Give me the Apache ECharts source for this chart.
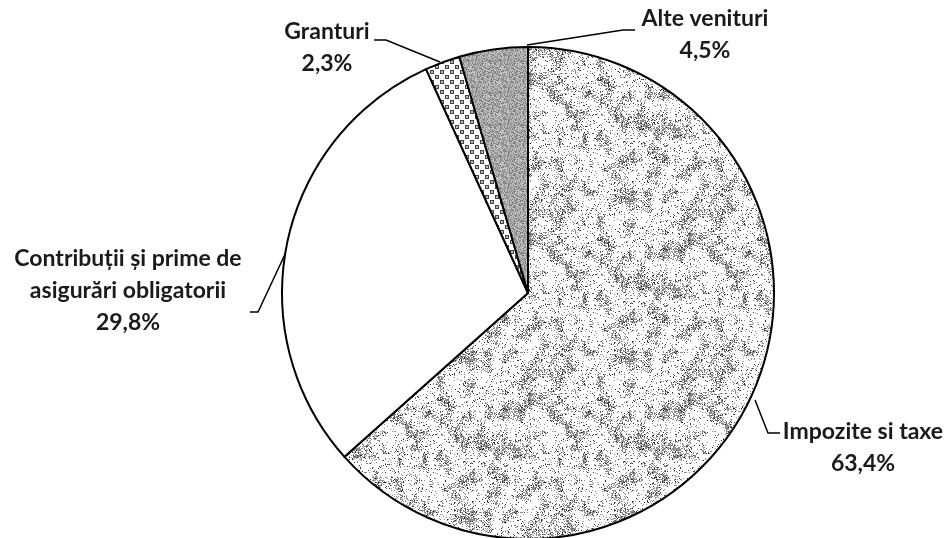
<!DOCTYPE html>
<html><head><meta charset="utf-8">
<script src="https://cdn.jsdelivr.net/npm/echarts@6/dist/echarts.min.js"></script>
<style>html,body{margin:0;padding:0;background:#fff}#c{width:950px;height:538px}</style>
</head><body><div id="c"></div>
<script>
const categories = ['Impozite si taxe', 'Contribuții și prime de\nasigurări obligatorii', 'Granturi', 'Alte venituri'];
const values = [63.4, 29.8, 2.3, 4.5];

// deterministic pseudo-random for textures only
let seed = 12345;
function rnd(){ seed = (seed * 1103515245 + 12345) & 0x7fffffff; return seed / 0x7fffffff; }

function speckle(){
  const N = 160, c = document.createElement('canvas'); c.width = c.height = N;
  const ctx = c.getContext('2d'); const img = ctx.createImageData(N, N);
  const G = 20, grid = [];
  for (let i = 0; i < G*G; i++) grid.push(rnd());
  function vn(x, y){
    const gx = x / N * G, gy = y / N * G;
    const x0 = Math.floor(gx), y0 = Math.floor(gy), fx = gx - x0, fy = gy - y0;
    const g = (a,b)=>grid[((b+G)%G)*G + ((a+G)%G)];
    const a = g(x0,y0)*(1-fx)+g(x0+1,y0)*fx, b = g(x0,y0+1)*(1-fx)+g(x0+1,y0+1)*fx;
    return a*(1-fy)+b*fy;
  }
  for (let y = 0; y < N; y++) for (let x = 0; x < N; x++){
    const n = vn(x, y), r = rnd(); let v = 255;
    const blob = Math.max(0, n - 0.45) * 1.8;
    if (r < 0.03 + blob*0.12) v = 50;
    else if (r < 0.10 + blob*0.75) v = 140;
    const k = (y*N + x)*4; img.data[k]=img.data[k+1]=img.data[k+2]=v; img.data[k+3]=255;
  }
  ctx.putImageData(img, 0, 0); return c;
}
function checker(){
  const c = document.createElement('canvas'); c.width = c.height = 10;
  const ctx = c.getContext('2d'); ctx.fillStyle = '#fff'; ctx.fillRect(0,0,10,10);
  ctx.fillStyle = '#444'; ctx.fillRect(0,0,4,4); ctx.fillStyle = '#bbb'; ctx.fillRect(1,1,2,2);
  ctx.fillStyle = '#444'; ctx.fillRect(5,5,4,4); ctx.fillStyle = '#bbb'; ctx.fillRect(6,6,2,2);
  return c;
}
function grayNoise(){
  const N = 32, c = document.createElement('canvas'); c.width = c.height = N;
  const ctx = c.getContext('2d'); const img = ctx.createImageData(N, N);
  for (let i = 0; i < N*N; i++){ const r = rnd(); const v = r < 0.3 ? 130 : (r < 0.6 ? 200 : 170);
    img.data[i*4]=img.data[i*4+1]=img.data[i*4+2]=v; img.data[i*4+3]=255; }
  ctx.putImageData(img, 0, 0); return c;
}
const fills = [
  {image: speckle(), repeat: 'repeat'},
  '#ffffff',
  {image: checker(), repeat: 'repeat'},
  {image: grayNoise(), repeat: 'repeat'}
];
const labelPos = [
  {x: 863, y: 448, line: [[755,400],[768,433],[780,433]]},
  {x: 128, y: 291, line: [[287,250],[258,312],[250,312]]},
  {x: 327, y: 48, line: [[440,62],[386,40],[374,40]]},
  {x: 705, y: 35, line: [[527,45],[623,30],[635,30]]}
];

const chart = echarts.init(document.getElementById('c'), null, {renderer: 'canvas'});
chart.setOption({
  backgroundColor: '#fff',
  animation: false,
  series: [{
    type: 'pie',
    center: [528, 293],
    radius: 246,
    startAngle: 90,
    clockwise: true,
    data: categories.map((n, i) => ({name: n, value: values[i], itemStyle: {color: fills[i]}})),
    itemStyle: {borderColor: '#000', borderWidth: 2},
    label: {
      show: true,
      formatter: p => p.name + '\n' + p.value.toFixed(1).replace('.', ',') + '%',
      fontFamily: 'Lato', fontWeight: 'bold', fontSize: 23, color: '#1a1a1a',
      lineHeight: 32, align: 'center', overflow: 'none', width: 400
    },
    labelLine: {show: true, lineStyle: {color: '#000', width: 1.5}},
    labelLayout: p => ({
      x: labelPos[p.dataIndex].x, y: labelPos[p.dataIndex].y,
      align: 'center', verticalAlign: 'middle',
      labelLinePoints: labelPos[p.dataIndex].line
    }),
    emphasis: {disabled: true}
  }]
});
</script></body></html>
